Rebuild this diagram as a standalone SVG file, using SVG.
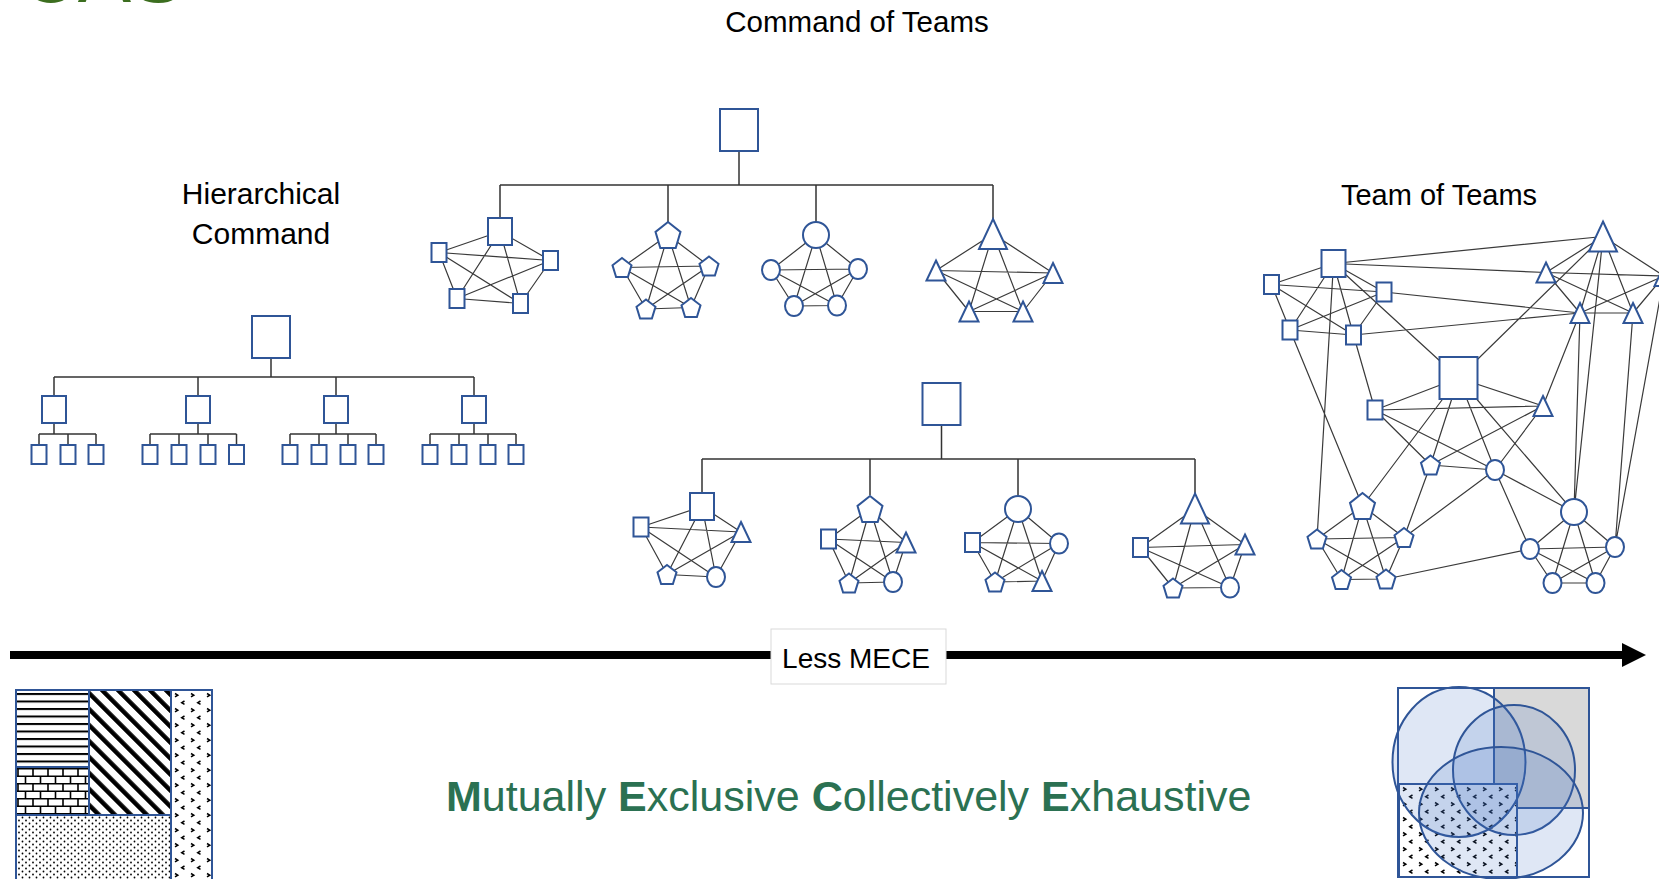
<svg xmlns="http://www.w3.org/2000/svg" xmlns:xlink="http://www.w3.org/1999/xlink" width="1659" height="879" viewBox="0 0 1659 879">
  <style>
    .nd { fill: #fff; stroke: #2f5597; stroke-width: 2; }
    .ln { fill: none; stroke: #3a3a3a; stroke-width: 1.2; }
    .tree { fill: none; stroke: #333; stroke-width: 1.5; }
    .lbl { font-family: "Liberation Sans", Arial, sans-serif; fill: #000; }
    .mece { font-family: "Liberation Sans", Arial, sans-serif; fill: #2b7152; font-size: 43px; }
    .blk { stroke: #2f5597; stroke-width: 2; }
    .venn { fill: #4472c4; fill-opacity: 0.17; stroke: #2f5597; stroke-width: 2; }
  </style>
  <defs>
    <!-- node shapes, centred on 0,0 -->
    <polygon id="pS" class="nd" points="0,-9.5 9.5,-2.2 5.9,9.5 -5.9,9.5 -9.5,-2.2"/>
    <polygon id="pL" class="nd" points="0,-13 12.5,-3.1 7.7,13 -7.7,13 -12.5,-3.1"/>
    <polygon id="tS" class="nd" points="0,-10 9.5,10 -9.5,10"/>
    <polygon id="tL" class="nd" points="0,-15 14,15 -14,15"/>
    <rect id="sS" class="nd" x="-7.5" y="-9.5" width="15" height="19"/>
    <rect id="sM" class="nd" x="-12" y="-13.5" width="24" height="27"/>
    <rect id="sL" class="nd" x="-19" y="-21" width="38" height="42"/>
    <ellipse id="cS" class="nd" rx="9" ry="10"/>
    <circle id="cL" class="nd" r="13"/>

    <!-- fill patterns -->
    <pattern id="hstripe" patternUnits="userSpaceOnUse" x="0" y="693" width="8" height="7.5">
      <rect width="8" height="7.5" fill="#fff"/>
      <rect width="8" height="2" fill="#000"/>
    </pattern>
    <pattern id="brick" patternUnits="userSpaceOnUse" x="2" y="768" width="15" height="15">
      <rect width="15" height="15" fill="#fff"/>
      <path d="M0,0.75H15 M0,8.25H15 M1,0V7.5 M8.5,7.5V15" stroke="#000" stroke-width="1.6" fill="none"/>
    </pattern>
    <pattern id="diag" patternUnits="userSpaceOnUse" width="11.3" height="11.3" patternTransform="rotate(-45)">
      <rect width="11.3" height="11.3" fill="#fff"/>
      <rect width="4.5" height="11.3" fill="#000"/>
    </pattern>
    <pattern id="dots" patternUnits="userSpaceOnUse" width="7" height="6">
      <rect width="7" height="6" fill="#fff"/>
      <circle cx="1.5" cy="1.5" r="0.9" fill="#000"/>
      <circle cx="5" cy="4.5" r="0.9" fill="#000"/>
    </pattern>
    <pattern id="chev" patternUnits="userSpaceOnUse" x="173" y="692" width="16" height="15">
      <rect width="16" height="15" fill="#fff"/>
      <path d="M2,1.5 l2.8,1.7 l-2.8,1.7 M11.5,9 l-2.8,1.7 l2.8,1.7" stroke="#000" stroke-width="1.5" fill="none"/>
    </pattern>
    <pattern id="chevR" patternUnits="userSpaceOnUse" x="1401" y="786" width="16" height="15">
      <rect width="16" height="15" fill="#fff"/>
      <path d="M2,1.5 l2.8,1.7 l-2.8,1.7 M11.5,9 l-2.8,1.7 l2.8,1.7" stroke="#000" stroke-width="1.5" fill="none"/>
    </pattern>
  </defs>

  <rect width="1659" height="879" fill="#fff"/>

  <!-- heading, mostly above the top edge -->
  <text x="20" y="2" font-family="Liberation Sans, Arial, sans-serif" font-size="80" fill="#3c6e1f">CAS</text>

  <!-- labels -->
  <text class="lbl" x="857" y="32" font-size="29.5" text-anchor="middle">Command of Teams</text>
  <text class="lbl" x="261" y="204" font-size="30" text-anchor="middle">Hierarchical</text>
  <text class="lbl" x="261" y="244" font-size="30" text-anchor="middle">Command</text>
  <text class="lbl" x="1439" y="205" font-size="29" text-anchor="middle">Team of Teams</text>

  <!-- connectors -->
  <g id="connectors">
    <!-- hierarchical tree -->
    <path class="tree" d="M271,358V377 M54,377H474 M54,377V396 M198,377V396 M336,377V396 M474,377V396
      M54,423V434 M39,434H96 M39,434V445 M68,434V445 M96,434V445
      M198,423V434 M150,434H236.5 M150,434V445 M179,434V445 M208,434V445 M236.5,434V445
      M336,423V434 M290,434H376 M290,434V445 M319,434V445 M348,434V445 M376,434V445
      M474,423V434 M430,434H516 M430,434V445 M459,434V445 M488,434V445 M516,434V445"/>
    <!-- command of teams: trees -->
    <path class="tree" d="M739,151V185 M500,185H993 M500,185V218 M668,185V222 M816,185V222 M993,185V219"/>
    <path class="tree" d="M941.5,425V459 M702,459H1195 M702,459V493 M870,459V495 M1018,459V495.5 M1195,459V493"/>
    <!-- team meshes -->
    <path class="ln" d="M500,231.5L439,252.5 M500,231.5L550.5,260.5 M500,231.5L457,298.5 M500,231.5L520.5,303.5 M439,252.5L550.5,260.5 M439,252.5L457,298.5 M439,252.5L520.5,303.5 M550.5,260.5L457,298.5 M550.5,260.5L520.5,303.5 M457,298.5L520.5,303.5"/>
    <path class="ln" d="M668,235L622,267.5 M668,235L709,266 M668,235L646,309 M668,235L691,307.5 M622,267.5L709,266 M622,267.5L646,309 M622,267.5L691,307.5 M709,266L646,309 M709,266L691,307.5 M646,309L691,307.5"/>
    <path class="ln" d="M816,235L771,270 M816,235L858,269 M816,235L794,306 M816,235L837,305.5 M771,270L858,269 M771,270L794,306 M771,270L837,305.5 M858,269L794,306 M858,269L837,305.5 M794,306L837,305.5"/>
    <path class="ln" d="M993,234L936,270.5 M993,234L1053,273 M993,234L969,311.5 M993,234L1023,311.5 M936,270.5L1053,273 M936,270.5L969,311.5 M936,270.5L1023,311.5 M1053,273L969,311.5 M1053,273L1023,311.5 M969,311.5L1023,311.5"/>
    <path class="ln" d="M702,506.5L641,527 M702,506.5L741,532 M702,506.5L667,574.5 M702,506.5L716,577 M641,527L741,532 M641,527L667,574.5 M641,527L716,577 M741,532L667,574.5 M741,532L716,577 M667,574.5L716,577"/>
    <path class="ln" d="M870,509L828.5,539 M870,509L906,542.5 M870,509L849,583 M870,509L893,582 M828.5,539L906,542.5 M828.5,539L849,583 M828.5,539L893,582 M906,542.5L849,583 M906,542.5L893,582 M849,583L893,582"/>
    <path class="ln" d="M1018,509L972.5,542.5 M1018,509L1059,543.5 M1018,509L995,582 M1018,509L1042,581 M972.5,542.5L1059,543.5 M972.5,542.5L995,582 M972.5,542.5L1042,581 M1059,543.5L995,582 M1059,543.5L1042,581 M995,582L1042,581"/>
    <path class="ln" d="M1195,508.5L1140.5,547.5 M1195,508.5L1245,544.5 M1195,508.5L1173,588 M1195,508.5L1230,587.5 M1140.5,547.5L1245,544.5 M1140.5,547.5L1173,588 M1140.5,547.5L1230,587.5 M1245,544.5L1173,588 M1245,544.5L1230,587.5 M1173,588L1230,587.5"/>
    <!-- team of teams: inner meshes -->
    <path class="ln" d="M1333.5,263.5L1271.5,284.5 M1333.5,263.5L1384,292 M1333.5,263.5L1290,330 M1333.5,263.5L1353.5,335 M1271.5,284.5L1384,292 M1271.5,284.5L1290,330 M1271.5,284.5L1353.5,335 M1384,292L1290,330 M1384,292L1353.5,335 M1290,330L1353.5,335"/>
    <path class="ln" d="M1603,236.5L1546,272.5 M1603,236.5L1664,276 M1603,236.5L1580,313 M1603,236.5L1633,313 M1546,272.5L1664,276 M1546,272.5L1580,313 M1546,272.5L1633,313 M1664,276L1580,313 M1664,276L1633,313 M1580,313L1633,313"/>
    <path class="ln" d="M1458.5,378L1375,410 M1458.5,378L1543,406 M1458.5,378L1430.5,465 M1458.5,378L1495,470 M1375,410L1543,406 M1375,410L1430.5,465 M1375,410L1495,470 M1543,406L1430.5,465 M1543,406L1495,470 M1430.5,465L1495,470"/>
    <path class="ln" d="M1362.5,506L1317,539 M1362.5,506L1404,537.5 M1362.5,506L1341.5,579.5 M1362.5,506L1386,579 M1317,539L1404,537.5 M1317,539L1341.5,579.5 M1317,539L1386,579 M1404,537.5L1341.5,579.5 M1404,537.5L1386,579 M1341.5,579.5L1386,579"/>
    <path class="ln" d="M1574,512L1530,549 M1574,512L1615,547 M1574,512L1552.5,583 M1574,512L1595.5,583 M1530,549L1615,547 M1530,549L1552.5,583 M1530,549L1595.5,583 M1615,547L1552.5,583 M1615,547L1595.5,583 M1552.5,583L1595.5,583"/>
    <!-- team of teams: links between teams -->
    <path class="ln" d="M1333.5,263.5L1603,236.5 M1333.5,263.5L1546,272.5 M1384,292L1580,313 M1353.5,335L1580,313
      M1333.5,263.5L1458.5,378 M1333.5,263.5L1317,539 M1290,330L1362.5,506 M1353.5,335L1375,410
      M1603,236.5L1458.5,378 M1603,236.5L1574,512 M1580,313L1574,512 M1580,313L1543,406 M1633,313L1615,547 M1664,276L1615,547
      M1458.5,378L1362.5,506 M1458.5,378L1574,512 M1495,470L1574,512 M1495,470L1530,549 M1495,470L1404,537.5
      M1430.5,465L1404,537.5 M1386,579L1530,549"/>
  </g>

  <!-- hierarchical command -->
  <g id="hier-root"><use href="#sL" x="271" y="337"/></g>
  <g id="hier-mid-1"><use href="#sM" x="54" y="409.5"/></g>
  <g id="hier-mid-2"><use href="#sM" x="198" y="409.5"/></g>
  <g id="hier-mid-3"><use href="#sM" x="336" y="409.5"/></g>
  <g id="hier-mid-4"><use href="#sM" x="474" y="409.5"/></g>
  <g id="hier-leaf-1a"><use href="#sS" x="39" y="454.5"/></g>
  <g id="hier-leaf-1b"><use href="#sS" x="68" y="454.5"/></g>
  <g id="hier-leaf-1c"><use href="#sS" x="96" y="454.5"/></g>
  <g id="hier-leaf-2a"><use href="#sS" x="150" y="454.5"/></g>
  <g id="hier-leaf-2b"><use href="#sS" x="179" y="454.5"/></g>
  <g id="hier-leaf-2c"><use href="#sS" x="208" y="454.5"/></g>
  <g id="hier-leaf-2d"><use href="#sS" x="236.5" y="454.5"/></g>
  <g id="hier-leaf-3a"><use href="#sS" x="290" y="454.5"/></g>
  <g id="hier-leaf-3b"><use href="#sS" x="319" y="454.5"/></g>
  <g id="hier-leaf-3c"><use href="#sS" x="348" y="454.5"/></g>
  <g id="hier-leaf-3d"><use href="#sS" x="376" y="454.5"/></g>
  <g id="hier-leaf-4a"><use href="#sS" x="430" y="454.5"/></g>
  <g id="hier-leaf-4b"><use href="#sS" x="459" y="454.5"/></g>
  <g id="hier-leaf-4c"><use href="#sS" x="488" y="454.5"/></g>
  <g id="hier-leaf-4d"><use href="#sS" x="516" y="454.5"/></g>

  <!-- command of teams (single-kind teams) -->
  <g id="cot1-root"><use href="#sL" x="739" y="130"/></g>
  <g id="cot1-sq-a"><use href="#sM" x="500" y="231.5"/></g>
  <g id="cot1-sq-b"><use href="#sS" x="439" y="252.5"/></g>
  <g id="cot1-sq-c"><use href="#sS" x="550.5" y="260.5"/></g>
  <g id="cot1-sq-d"><use href="#sS" x="457" y="298.5"/></g>
  <g id="cot1-sq-e"><use href="#sS" x="520.5" y="303.5"/></g>
  <g id="cot1-pe-a"><use href="#pL" x="668" y="235"/></g>
  <g id="cot1-pe-b"><use href="#pS" x="622" y="267.5"/></g>
  <g id="cot1-pe-c"><use href="#pS" x="709" y="266"/></g>
  <g id="cot1-pe-d"><use href="#pS" x="646" y="309"/></g>
  <g id="cot1-pe-e"><use href="#pS" x="691" y="307.5"/></g>
  <g id="cot1-ci-a"><use href="#cL" x="816" y="235"/></g>
  <g id="cot1-ci-b"><use href="#cS" x="771" y="270"/></g>
  <g id="cot1-ci-c"><use href="#cS" x="858" y="269"/></g>
  <g id="cot1-ci-d"><use href="#cS" x="794" y="306"/></g>
  <g id="cot1-ci-e"><use href="#cS" x="837" y="305.5"/></g>
  <g id="cot1-tr-a"><use href="#tL" x="993" y="234"/></g>
  <g id="cot1-tr-b"><use href="#tS" x="936" y="270.5"/></g>
  <g id="cot1-tr-c"><use href="#tS" x="1053" y="273"/></g>
  <g id="cot1-tr-d"><use href="#tS" x="969" y="311.5"/></g>
  <g id="cot1-tr-e"><use href="#tS" x="1023" y="311.5"/></g>

  <!-- command of teams (mixed teams) -->
  <g id="cot2-root"><use href="#sL" x="941.5" y="404"/></g>
  <g id="cot2-a-top"><use href="#sM" x="702" y="506.5"/></g>
  <g id="cot2-a-l"><use href="#sS" x="641" y="527"/></g>
  <g id="cot2-a-r"><use href="#tS" x="741" y="532"/></g>
  <g id="cot2-a-bl"><use href="#pS" x="667" y="574.5"/></g>
  <g id="cot2-a-br"><use href="#cS" x="716" y="577"/></g>
  <g id="cot2-b-top"><use href="#pL" x="870" y="509"/></g>
  <g id="cot2-b-l"><use href="#sS" x="828.5" y="539"/></g>
  <g id="cot2-b-r"><use href="#tS" x="906" y="542.5"/></g>
  <g id="cot2-b-bl"><use href="#pS" x="849" y="583"/></g>
  <g id="cot2-b-br"><use href="#cS" x="893" y="582"/></g>
  <g id="cot2-c-top"><use href="#cL" x="1018" y="509"/></g>
  <g id="cot2-c-l"><use href="#sS" x="972.5" y="542.5"/></g>
  <g id="cot2-c-r"><use href="#cS" x="1059" y="543.5"/></g>
  <g id="cot2-c-bl"><use href="#pS" x="995" y="582"/></g>
  <g id="cot2-c-br"><use href="#tS" x="1042" y="581"/></g>
  <g id="cot2-d-top"><use href="#tL" x="1195" y="508.5"/></g>
  <g id="cot2-d-l"><use href="#sS" x="1140.5" y="547.5"/></g>
  <g id="cot2-d-r"><use href="#tS" x="1245" y="544.5"/></g>
  <g id="cot2-d-bl"><use href="#pS" x="1173" y="588"/></g>
  <g id="cot2-d-br"><use href="#cS" x="1230" y="587.5"/></g>

  <!-- team of teams -->
  <g id="tot-sq-a"><use href="#sM" x="1333.5" y="263.5"/></g>
  <g id="tot-sq-b"><use href="#sS" x="1271.5" y="284.5"/></g>
  <g id="tot-sq-c"><use href="#sS" x="1384" y="292"/></g>
  <g id="tot-sq-d"><use href="#sS" x="1290" y="330"/></g>
  <g id="tot-sq-e"><use href="#sS" x="1353.5" y="335"/></g>
  <g id="tot-tr-a"><use href="#tL" x="1603" y="236.5"/></g>
  <g id="tot-tr-b"><use href="#tS" x="1546" y="272.5"/></g>
  <g id="tot-tr-c"><use href="#tS" x="1664" y="276"/></g>
  <g id="tot-tr-d"><use href="#tS" x="1580" y="313"/></g>
  <g id="tot-tr-e"><use href="#tS" x="1633" y="313"/></g>
  <g id="tot-hub"><use href="#sL" x="1458.5" y="378"/></g>
  <g id="tot-hub-sq"><use href="#sS" x="1375" y="410"/></g>
  <g id="tot-hub-tr"><use href="#tS" x="1543" y="406"/></g>
  <g id="tot-hub-pe"><use href="#pS" x="1430.5" y="465"/></g>
  <g id="tot-hub-ci"><use href="#cS" x="1495" y="470"/></g>
  <g id="tot-pe-a"><use href="#pL" x="1362.5" y="506"/></g>
  <g id="tot-pe-b"><use href="#pS" x="1317" y="539"/></g>
  <g id="tot-pe-c"><use href="#pS" x="1404" y="537.5"/></g>
  <g id="tot-pe-d"><use href="#pS" x="1341.5" y="579.5"/></g>
  <g id="tot-pe-e"><use href="#pS" x="1386" y="579"/></g>
  <g id="tot-ci-a"><use href="#cL" x="1574" y="512"/></g>
  <g id="tot-ci-b"><use href="#cS" x="1530" y="549"/></g>
  <g id="tot-ci-c"><use href="#cS" x="1615" y="547"/></g>
  <g id="tot-ci-d"><use href="#cS" x="1552.5" y="583"/></g>
  <g id="tot-ci-e"><use href="#cS" x="1595.5" y="583"/></g>

  <!-- scale arrow -->
  <g id="scale">
    <line x1="10" y1="655" x2="1624" y2="655" stroke="#000" stroke-width="8"/>
    <polygon points="1622,643 1646,655 1622,667" fill="#000"/>
    <rect x="771" y="629" width="175" height="55" fill="#fff" stroke="#d9d9d9" stroke-width="1"/>
    <text class="lbl" x="856" y="668" font-size="28" text-anchor="middle">Less MECE</text>
  </g>

  <!-- partitioned square -->
  <g id="mece-partition">
    <rect x="16" y="690" width="73" height="77" fill="url(#hstripe)" class="blk"/>
    <rect x="16" y="767" width="73" height="48" fill="url(#brick)" class="blk"/>
    <rect x="89" y="690" width="82" height="125" fill="url(#diag)" class="blk"/>
    <rect x="16" y="815" width="155" height="70" fill="url(#dots)" class="blk"/>
    <rect x="171" y="690" width="41" height="195" fill="url(#chev)" class="blk"/>
  </g>

  <text class="mece" x="446" y="811"><tspan font-weight="bold">M</tspan>utually <tspan font-weight="bold">E</tspan>xclusive <tspan font-weight="bold">C</tspan>ollectively <tspan font-weight="bold">E</tspan>xhaustive</text>

  <!-- overlapping sets -->
  <g id="mece-overlap">
    <rect x="1398" y="688" width="191" height="189" fill="#fff" class="blk"/>
    <rect x="1494" y="688" width="95" height="120" fill="#d9d9d9" class="blk"/>
    <rect x="1399" y="784" width="118" height="93" fill="url(#chevR)" class="blk"/>
    <ellipse class="venn" cx="1459" cy="762" rx="66.5" ry="75"/>
    <ellipse class="venn" cx="1514" cy="770" rx="61" ry="65"/>
    <ellipse class="venn" cx="1501" cy="813" rx="82" ry="66"/>
  </g>
</svg>
